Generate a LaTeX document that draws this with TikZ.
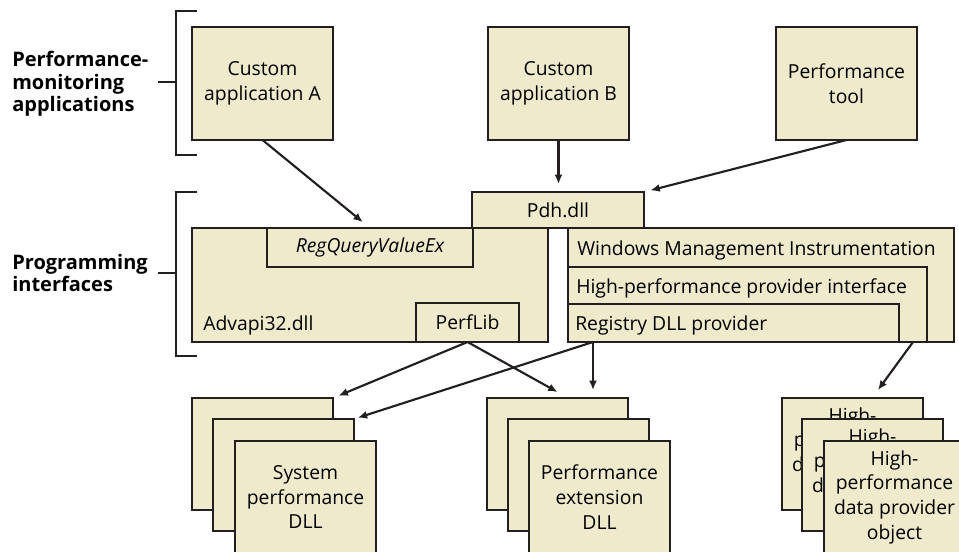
\documentclass[tikz,border=0pt]{standalone}
\usepackage{fontspec}
\setmainfont{Open Sans}
\usepackage{tikz}
\usetikzlibrary{arrows.meta,calc,positioning}
\definecolor{boxfill}{HTML}{EEEACB}
\definecolor{boxline}{HTML}{231F20}
\tikzset{
every picture/.style={line join=miter},
>={Latex[length=7pt,width=6pt]},
perf box/.style={
  draw=boxline,
  fill=boxfill,
  line width=1.7pt,
  inner sep=0pt,
  outer sep=0pt,
  anchor=north west,
  align=center,
  font=\fontsize{14.5}{18.5}\selectfont
},
app box/.style={perf box, minimum width=105.75pt, minimum height=84.75pt},
stack box/.style={perf box, minimum width=105.75pt, minimum height=84pt},
box text/.style={anchor=base west, inner sep=0pt, font=\fontsize{14.5}{18.5}\selectfont},
side label/.style={anchor=west, inner sep=0pt, align=left, font=\bfseries\fontsize{15}{17}\selectfont},
bracket line/.style={draw=boxline, line width=1.7pt},
fig flow/.style={draw=boxline, ->, line width=1.6pt}
}
\begin{document}
\begin{tikzpicture}[x=0.75pt,y=-0.75pt]
\path[use as bounding box,clip] (0,0) rectangle (959,552);
% monitoring applications
\node[app box] (appA) at (192,27) {Custom\\application A};
\node[app box] (appB) at (488,27) {Custom\\application B};
\node[app box] (perftool) at (776,27) {Performance\\tool};
% programming interfaces
\node[perf box, minimum width=267pt, minimum height=85.5pt] (advapi) at (192,228) {};
\node[perf box, minimum width=154.5pt, minimum height=29.25pt, font=\itshape\fontsize{14.5}{18.5}\selectfont] (regquery) at (267,228) {RegQueryValueEx};
\node[perf box, minimum width=77.25pt, minimum height=29.25pt] (perflib) at (416,303) {PerfLib};
\node[perf box, minimum width=129pt, minimum height=27pt] (pdh) at (472,192) {Pdh.dll};
\node[perf box, minimum width=289.5pt, minimum height=85.5pt] (wmi) at (568,228) {};
\node[perf box, minimum width=269.25pt, minimum height=56.25pt] (hpi) at (568,267) {};
\node[perf box, minimum width=248.25pt, minimum height=28.5pt] (regdll) at (568,304) {};
\node[box text] (advapitext) at (203,330) {Advapi32.dll};
\node[box text] (wmitext) at (577,255) {Windows Management Instrumentation};
\node[box text] (hpitext) at (576,293) {High-performance provider interface};
\node[box text] (regdlltext) at (575,330) {Registry DLL provider};
% side labels and brackets
\node[side label] (monlabel) at (12,84) {Performance-\\monitoring\\applications};
\node[side label] (proglabel) at (12,273) {Programming\\interfaces};
\draw[bracket line] (197,11) -- (176,11) -- (176,155) -- (197,155);
\draw[bracket line] (158,82) -- (176,82);
\draw[bracket line] (197,192) -- (176,192) -- (176,356) -- (197,356);
\draw[bracket line] (158,273) -- (176,273);
% provider stacks
\node[stack box] (sysA) at (192,398) {};
\node[stack box] (sysB) at (213,419) {};
\node[stack box] (sysC) at (235,441) {System\\performance\\DLL};
\node[stack box] (extA) at (487,398) {};
\node[stack box] (extB) at (508,419) {};
\node[stack box] (extC) at (529,441) {Performance\\extension\\DLL};
\node[stack box] (hpA) at (782,398) {High-\\performance\\data provider\\object};
\node[stack box] (hpB) at (802,419) {High-\\performance\\data provider\\object};
\node[stack box] (hpC) at (824,441) {High-\\performance\\data provider\\object};
% connectors
\coordinate (regout) at (593,342);
\coordinate (hpiout) at (913,342);
\draw[fig flow, shorten >=7pt] (appA.south) -- (regquery.north);
\draw[fig flow, shorten >=6pt] (appB.south) -- (appB.south |- pdh.north);
\draw[fig flow, shorten >=5pt] (perftool.south) -- (pdh.north east);
\draw[fig flow, shorten >=4.5pt] (perflib.south) -- (sysA.north east);
\draw[fig flow] (perflib.south) -- ($(extA.north)+(0,-6)$);
\draw[fig flow, shorten >=3pt] (regout) -- (sysB.north east);
\draw[fig flow, shorten >=6pt] (regout) -- (regout |- extA.north);
\draw[fig flow] (hpiout) -- ($(hpA.north)+(25.5,-8)$);
\end{tikzpicture}
\end{document}
